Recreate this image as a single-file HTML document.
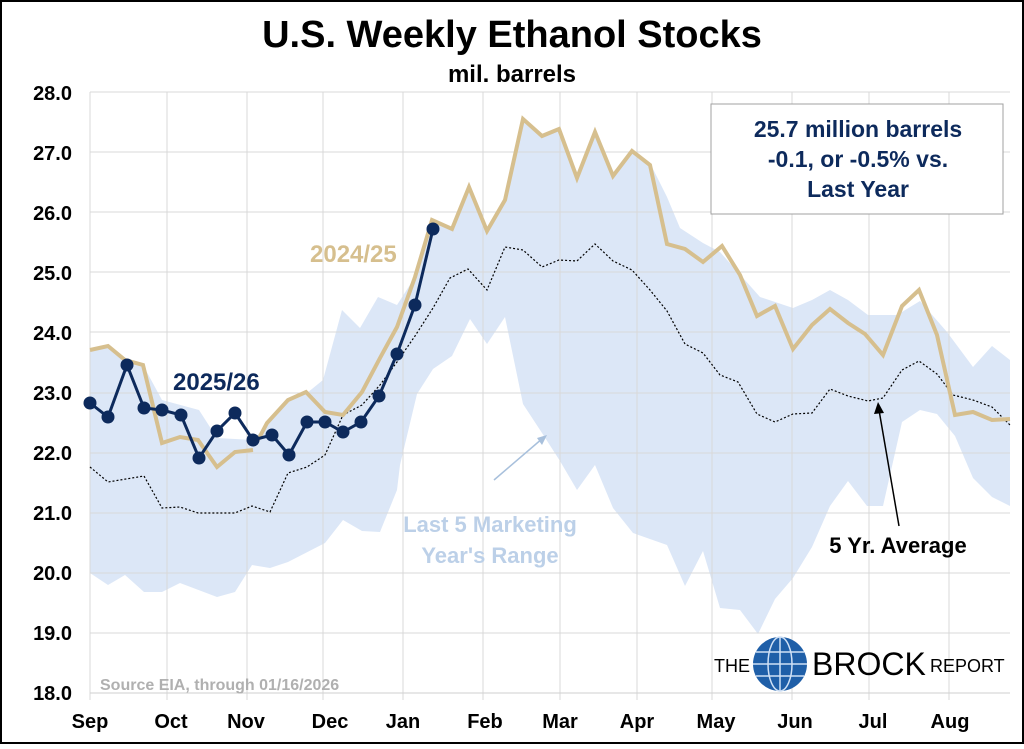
<!DOCTYPE html>
<html><head><meta charset="utf-8"><style>
body{margin:0;background:#fff;}
svg text{font-family:"Liberation Sans",Arial,sans-serif;font-weight:bold;}
</style></head><body>
<svg width="1024" height="744" viewBox="0 0 1024 744" xmlns="http://www.w3.org/2000/svg">
<rect x="0" y="0" width="1024" height="744" fill="#fff"/>
<text x="512" y="47" text-anchor="middle" font-size="38">U.S. Weekly Ethanol Stocks</text>
<text x="512" y="82" text-anchor="middle" font-size="24">mil. barrels</text>
<polygon fill="#dce7f7" points="90,350 108,346 125,360 143,365 162,400 199,410 217,438 253,440 271,420 289,400 307,393 323,380 342,310 360,328 378,297 397,305 415,277 432,220 452,229 469,187 487,231 505,200 523,119 542,136 559,129 577,178 595,132 613,176 632,151 650,163 667,197 680,228 703,243 720,252 760,297 793,308 812,300 830,290 848,300 868,315 897,315 920,301 947,332 973,367 992,346 1010,360 1010,506 992,497 973,478 955,436 937,414 920,410 902,422 883,506 867,506 848,481 830,506 812,547 793,578 775,599 758,634 740,610 720,608 703,551 685,586 667,545 633,533 613,508 595,465 577,490 560,461 542,433 523,404 505,317 487,344 470,319 452,356 433,369 417,394 400,465 397,490 380,532 362,531 343,520 325,543 288,562 270,568 252,565 235,592 217,597 180,583 162,592 144,592 125,575 108,585 90,573"/>
<g stroke="#d9d9d9" stroke-width="1">
<line x1="90" x2="1010" y1="92" y2="92"/><line x1="90" x2="1010" y1="152" y2="152"/><line x1="90" x2="1010" y1="212" y2="212"/><line x1="90" x2="1010" y1="272" y2="272"/><line x1="90" x2="1010" y1="332" y2="332"/><line x1="90" x2="1010" y1="393" y2="393"/><line x1="90" x2="1010" y1="453" y2="453"/><line x1="90" x2="1010" y1="513" y2="513"/><line x1="90" x2="1010" y1="573" y2="573"/><line x1="90" x2="1010" y1="633" y2="633"/>
<line x1="90" x2="90" y1="92" y2="700"/><line x1="167" x2="167" y1="92" y2="700"/><line x1="247" x2="247" y1="92" y2="700"/><line x1="323" x2="323" y1="92" y2="700"/><line x1="403" x2="403" y1="92" y2="700"/><line x1="483" x2="483" y1="92" y2="700"/><line x1="560" x2="560" y1="92" y2="700"/><line x1="637" x2="637" y1="92" y2="700"/><line x1="712" x2="712" y1="92" y2="700"/><line x1="792" x2="792" y1="92" y2="700"/><line x1="869" x2="869" y1="92" y2="700"/><line x1="949" x2="949" y1="92" y2="700"/>
</g>
<line x1="90" x2="1010" y1="693" y2="693" stroke="#cfcfcf"/>
<g font-size="20" text-anchor="end" fill="#000">
<text x="72" y="100">28.0</text><text x="72" y="160">27.0</text><text x="72" y="220">26.0</text><text x="72" y="280">25.0</text><text x="72" y="340">24.0</text><text x="72" y="400">23.0</text><text x="72" y="460">22.0</text><text x="72" y="520">21.0</text><text x="72" y="580">20.0</text><text x="72" y="640">19.0</text><text x="72" y="700">18.0</text>
</g>
<g font-size="20" text-anchor="middle">
<text x="90" y="728">Sep</text><text x="171" y="728">Oct</text><text x="246" y="728">Nov</text><text x="330" y="728">Dec</text><text x="403" y="728">Jan</text><text x="485" y="728">Feb</text><text x="560" y="728">Mar</text><text x="637" y="728">Apr</text><text x="716" y="728">May</text><text x="795" y="728">Jun</text><text x="873" y="728">Jul</text><text x="950" y="728">Aug</text>
</g>
<polyline fill="none" stroke="#000" stroke-width="1.2" stroke-dasharray="2,2" points="90,467 108,482 144,476 162,508 180,507 198,513 235,513 252,506 270,512 288,473 307,467 325,455 343,415 362,405 380,385 397,362 415,336 433,308 450,278 468,269 487,290 505,247 523,250 542,267 559,260 577,261 595,244 613,261 632,270 650,290 667,311 685,344 703,353 720,375 738,382 757,414 775,422 793,414 812,413 830,389 848,396 868,401 883,398 902,370 919,361 937,374 953,395 973,400 992,407 1010,425"/>
<polyline fill="none" stroke="#d6bf8e" stroke-width="4" points="90,350 108,346 125,360 143,365 162,443 180,437 198,440 217,467 235,452 253,450"/>
<polyline fill="none" stroke="#d6bf8e" stroke-width="4" points="258,440 267,423 288,400 306,392 325,412 343,415 362,392 380,358 397,327 415,277 432,220 452,229 469,187 487,231 505,200 523,119 542,136 559,129 577,178 595,132 613,176 632,151 650,165 667,244 685,249 703,262 722,246 740,275 757,316 775,306 793,349 812,325 830,309 848,323 865,334 883,355 902,306 919,290 937,335 955,415 973,412 992,420 1010,419"/>
<g fill="#0d2a5c" stroke="#0d2a5c">
<polyline fill="none" stroke-width="3" points="90,403 108,417 127,365 144,408 162,410 181,415 199,458 217,431 235,413 253,440 272,435 289,455 307,422 325,422 343,432 361,422 379,396 397,354 415,305 433,229"/>
<g stroke="none">
<circle cx="90" cy="403" r="6.5"/><circle cx="108" cy="417" r="6.5"/><circle cx="127" cy="365" r="6.5"/><circle cx="144" cy="408" r="6.5"/><circle cx="162" cy="410" r="6.5"/><circle cx="181" cy="415" r="6.5"/><circle cx="199" cy="458" r="6.5"/><circle cx="217" cy="431" r="6.5"/><circle cx="235" cy="413" r="6.5"/><circle cx="253" cy="440" r="6.5"/><circle cx="272" cy="435" r="6.5"/><circle cx="289" cy="455" r="6.5"/><circle cx="307" cy="422" r="6.5"/><circle cx="325" cy="422" r="6.5"/><circle cx="343" cy="432" r="6.5"/><circle cx="361" cy="422" r="6.5"/><circle cx="379" cy="396" r="6.5"/><circle cx="397" cy="354" r="6.5"/><circle cx="415" cy="305" r="6.5"/><circle cx="433" cy="229" r="6.5"/>
</g></g>
<text x="173" y="390" font-size="24" fill="#0d2a5c">2025/26</text>
<text x="310" y="262" font-size="24" fill="#d6bf8e">2024/25</text>
<rect x="711" y="104" width="292" height="110" fill="#fff" stroke="#a0a0a0"/>
<g font-size="23" fill="#0d2a5c" text-anchor="middle">
<text x="858" y="137">25.7 million barrels</text><text x="858" y="167">-0.1, or -0.5% vs.</text><text x="858" y="197">Last Year</text>
</g>
<line x1="494" y1="480" x2="543" y2="438" stroke="#a8c0dc" stroke-width="1.5"/>
<polygon points="547,435 537,438 542,445" fill="#a8c0dc"/>
<g font-size="22" fill="#bcd0e8" text-anchor="middle"><text x="490" y="532">Last 5 Marketing</text><text x="490" y="563">Year's Range</text></g>
<line x1="899" y1="526" x2="879" y2="410" stroke="#000" stroke-width="1.5"/>
<polygon points="878,402 874,414 884,413" fill="#000"/>
<text x="898" y="553" font-size="22" text-anchor="middle">5 Yr. Average</text>
<text x="100" y="690" font-size="16" fill="#b0b0b0">Source EIA, through 01/16/2026</text>
<text x="714" y="672" font-size="18" style="font-weight:normal">THE</text>
<circle cx="780" cy="664" r="27" fill="#1f5fa8"/>
<g stroke="#cfe0f5" stroke-width="1.5" fill="none"><ellipse cx="780" cy="664" rx="12" ry="27"/><line x1="753" y1="664" x2="807" y2="664"/><line x1="756" y1="652" x2="804" y2="652"/><line x1="756" y1="676" x2="804" y2="676"/><line x1="780" y1="637" x2="780" y2="691"/></g>
<text x="812" y="675" font-size="32" style="font-weight:normal">BROCK</text>
<text x="930" y="672" font-size="18" style="font-weight:normal">REPORT</text>
<rect x="1" y="1" width="1022" height="742" fill="none" stroke="#000" stroke-width="2"/>
</svg>
</body></html>
